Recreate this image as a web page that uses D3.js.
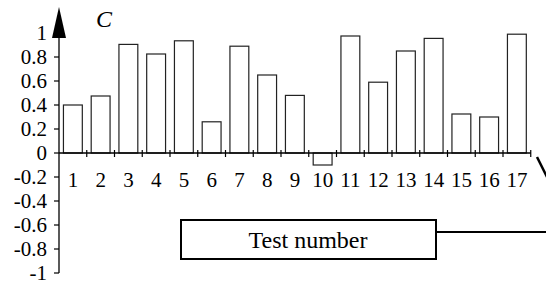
<!DOCTYPE html>
<html>
<head>
<meta charset="utf-8">
<script src="https://cdn.jsdelivr.net/npm/d3@7"></script>
<style>
  svg text { font-family: "Liberation Serif" !important; }
</style>
</head>
<body style="margin:0">
<script>
// Data
const tests = ["1","2","3","4","5","6","7","8","9","10","11","12","13","14","15","16","17"];
const cValues = [0.40, 0.475, 0.905, 0.825, 0.935, 0.26, 0.89, 0.65, 0.48, -0.10, 0.975, 0.59, 0.85, 0.955, 0.325, 0.30, 0.99];
const yTicks = [-1, -0.8, -0.6, -0.4, -0.2, 0, 0.2, 0.4, 0.6, 0.8, 1];
const yTickLabels = ["-1", "-0.8", "-0.6", "-0.4", "-0.2", "0", "0.2", "0.4", "0.6", "0.8", "1"];

const width = 546, height = 284;
const x0 = 59, x1 = 530.75;
const fontName = '"Liberation Serif"';

const svg = d3.select("body").append("svg")
  .attr("width", width)
  .attr("height", height)
  .attr("font-family", "Liberation Serif");

const x = d3.scaleBand()
  .domain(tests)
  .range([x0, x1])
  .paddingInner(0.32)
  .paddingOuter(0.16);

const y = d3.scaleLinear()
  .domain([-1, 1])
  .range([273, 33]);

// Bars
svg.append("g")
  .selectAll("rect")
  .data(cValues)
  .join("rect")
  .attr("x", (d, i) => x(tests[i]))
  .attr("width", x.bandwidth())
  .attr("y", d => y(Math.max(0, d)))
  .attr("height", d => Math.abs(y(d) - y(0)))
  .attr("fill", "#fff")
  .attr("stroke", "#222")
  .attr("stroke-width", 1.2);

// Y axis
const yAxis = svg.append("g");
yAxis.append("line")
  .attr("x1", x0).attr("x2", x0)
  .attr("y1", y(-1)).attr("y2", 36)
  .attr("stroke", "#000").attr("stroke-width", 1.3);
yAxis.append("path")
  .attr("d", `M${x0},7 L${x0 - 7},38 L${x0 + 7},38 Z`)
  .attr("fill", "#000");
yAxis.selectAll("line.tick")
  .data(yTicks)
  .join("line")
  .attr("class", "tick")
  .attr("x1", x0 - 5).attr("x2", x0)
  .attr("y1", d => y(d)).attr("y2", d => y(d))
  .attr("stroke", "#000").attr("stroke-width", 1.2);
yAxis.selectAll("text")
  .data(yTicks)
  .join("text")
  .attr("x", 47)
  .attr("y", d => y(d))
  .attr("dy", "0.33em")
  .attr("text-anchor", "end")
  .style("font-family", fontName, "important")
  .style("font-size", "21px")
  .text((d, i) => yTickLabels[i]);

svg.append("text")
  .attr("x", 96).attr("y", 27)
  .style("font-family", fontName, "important")
  .style("font-size", "24px")
  .style("font-style", "italic")
  .text("C");

// X axis
const xAxis = svg.append("g");
xAxis.append("line")
  .attr("x1", x0).attr("x2", x1)
  .attr("y1", y(0)).attr("y2", y(0))
  .attr("stroke", "#000").attr("stroke-width", 1.3);
xAxis.selectAll("line.tick")
  .data(tests)
  .join("line")
  .attr("class", "tick")
  .attr("x1", d => x(d) - x.step() * x.paddingOuter() + x.step())
  .attr("x2", d => x(d) - x.step() * x.paddingOuter() + x.step())
  .attr("y1", y(0) - 3).attr("y2", y(0) + 4)
  .attr("stroke", "#000").attr("stroke-width", 1.2);
xAxis.selectAll("text")
  .data(tests)
  .join("text")
  .attr("x", d => x(d) + x.bandwidth() / 2)
  .attr("y", 187)
  .attr("text-anchor", "middle")
  .style("font-family", fontName, "important")
  .style("font-size", "21px")
  .text(d => d);

// Leader stub at the right edge
svg.append("line")
  .attr("x1", 537).attr("y1", 157)
  .attr("x2", 548).attr("y2", 179)
  .attr("stroke", "#000").attr("stroke-width", 2.5);

// Axis title box
svg.append("rect")
  .attr("x", 181).attr("y", 220)
  .attr("width", 255).attr("height", 39)
  .attr("fill", "#fff")
  .attr("stroke", "#000").attr("stroke-width", 2);
svg.append("text")
  .attr("x", 308).attr("y", 248)
  .attr("text-anchor", "middle")
  .style("font-family", fontName, "important")
  .style("font-size", "24px")
  .text("Test number");
svg.append("line")
  .attr("x1", 436).attr("y1", 232)
  .attr("x2", 546).attr("y2", 232)
  .attr("stroke", "#000").attr("stroke-width", 2);
</script>
</body>
</html>
